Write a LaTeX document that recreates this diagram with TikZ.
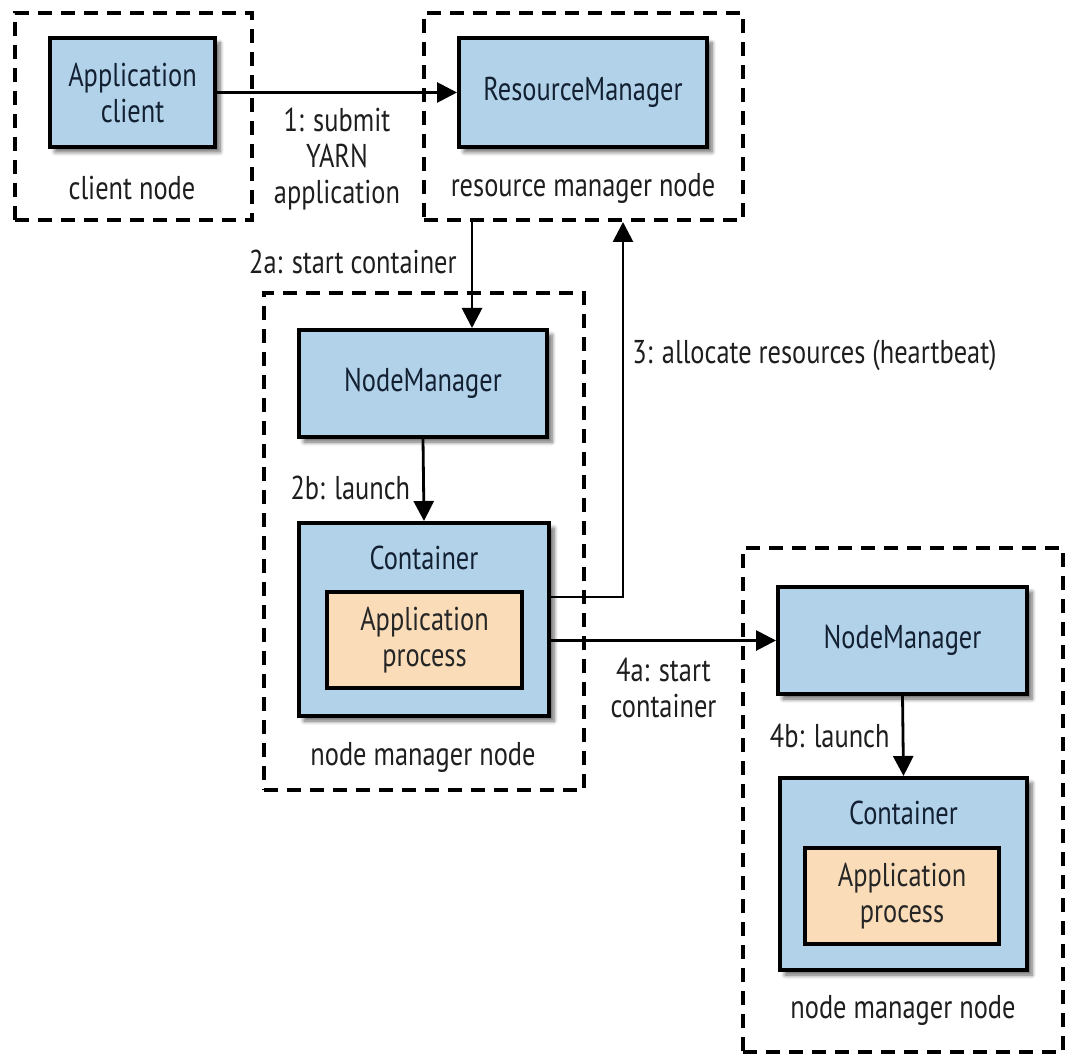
\documentclass[tikz,border=0pt]{standalone}
\usepackage{fontspec}
\setmainfont{PT Sans}[FakeStretch=0.8]
\usetikzlibrary{positioning, arrows.meta, shadows.blur, calc}
\definecolor{boxblue}{RGB}{178,210,234}
\definecolor{procpeach}{RGB}{250,221,184}
\definecolor{boxtext}{RGB}{18,32,50}
\definecolor{lbltext}{RGB}{30,30,30}

\begin{document}
\begin{tikzpicture}[x=0.5pt, y=-0.5pt,
    font=\fontsize{16.5}{18}\selectfont,
    machine/.style={draw, line width=2pt, dash pattern=on 7pt off 4.5pt, inner sep=0pt},
    daemon/.style={draw, line width=2pt, fill=boxblue, text=boxtext, align=center, inner sep=0pt,
        blur shadow={shadow xshift=2.5pt, shadow yshift=-2.5pt, shadow blur steps=6, shadow opacity=60}},
    proc/.style={draw, line width=2pt, fill=procpeach, text=black!85, align=center, inner sep=0pt},
    lbl/.style={text=lbltext, align=center, inner sep=0pt},
    flow/.style={-{Triangle[length=10pt, width=10pt]}, line width=1.4pt}]
    \useasboundingbox (0,0) rectangle (1090,1058);

    % machines
    \node[machine, minimum width=118.5pt, minimum height=103.5pt] (clientnode) at (133.5,116.5) {};
    \node[machine, minimum width=159.5pt, minimum height=103.5pt] (rmnode) at (583.5,116.5) {};
    \node[machine, minimum width=160pt, minimum height=248.5pt] (nmnodeA) at (424,541.5) {};
    \node[machine, minimum width=160pt, minimum height=252pt] (nmnodeB) at (903,800) {};

    % client node
    \node[daemon, minimum width=82.5pt, minimum height=54.5pt] (appclient) at (132.5,92.5) {Application\\client};
    \node[lbl] (clientlbl) at (132,188) {client node};

    % resource manager node
    \node[daemon, minimum width=124pt, minimum height=54.5pt] (rm) at (583,92.5) {ResourceManager};
    \node[lbl] (rmlbl) at (583,188) {resource manager node};

    % first node manager node
    \node[daemon, minimum width=124pt, minimum height=53.5pt] (nmA) at (423,383.5) {NodeManager};
    \node[daemon, minimum width=125pt, minimum height=96.5pt] (contA) at (424,619.5) {};
    \node[text=boxtext] (contAlbl) at (424,558) {Container};
    \node[proc, minimum width=97.5pt, minimum height=48pt] (procA) at (424.5,640) {Application\\process};
    \node[lbl] (nmAlbl) at (423,757) {node manager node};

    % second node manager node
    \node[daemon, minimum width=124.5pt, minimum height=53.5pt] (nmB) at (902.5,640.5) {NodeManager};
    \node[daemon, minimum width=123.5pt, minimum height=96pt] (contB) at (903.5,874) {};
    \node[text=boxtext] (contBlbl) at (903.5,813) {Container};
    \node[proc, minimum width=97pt, minimum height=48pt] (procB) at (902,896) {Application\\process};
    \node[lbl] (nmBlbl) at (903,1010) {node manager node};

    % connectors
    \coordinate (startA) at (472,0);
    \coordinate (beat) at (623,597);

    \draw[flow] (appclient.east) -- (rm.west)
        node[lbl, midway, below=7pt] {1: submit\\YARN\\application};
    \draw[flow] (rmnode.south -| startA) -- (nmA.north -| startA)
        node[lbl, pos=0.38, left=7pt] {2a: start container};
    \draw[flow] (nmA.south) -- (contA.north)
        node[lbl, pos=0.6, left=6pt] {2b: launch};
    \draw[flow] (contA.east |- beat) -| (rmnode.south -| beat);
    \node[lbl, anchor=west] (beatlbl) at (632,355) {3: allocate resources (heartbeat)};
    \draw[flow] (contA.east |- nmB.west) -- (nmB.west)
        node[lbl, midway, below=8pt] {4a: start\\container};
    \draw[flow] (nmB.south) -- (contB.north)
        node[lbl, midway, left=6pt] {4b: launch};
\end{tikzpicture}
\end{document}
